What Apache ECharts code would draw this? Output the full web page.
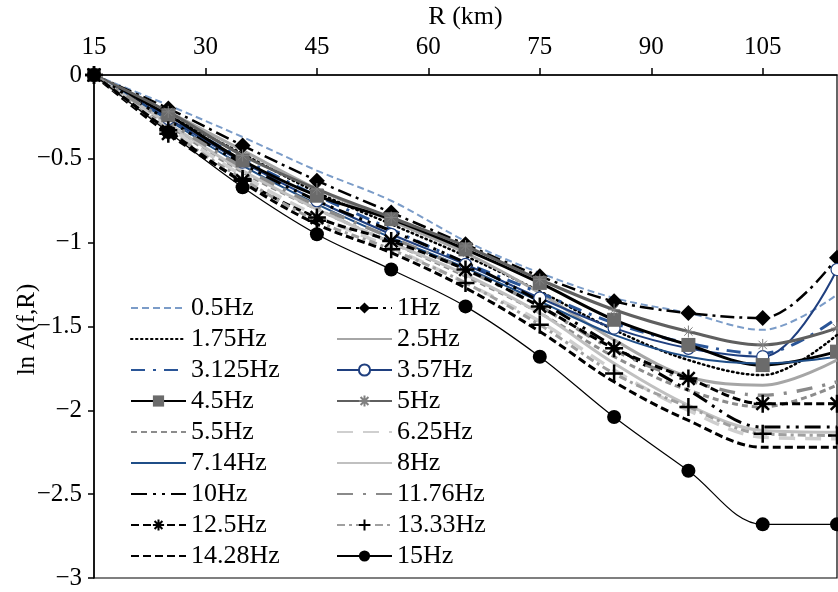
<!DOCTYPE html>
<html>
<head>
<meta charset="utf-8">
<script src="https://cdn.jsdelivr.net/npm/echarts@6/dist/echarts.min.js"></script>
<style>
  html, body { margin: 0; padding: 0; background: #fff; }
  #chart { width: 838px; height: 592px; }
</style>
</head>
<body>
<div id="chart"></div>
<script>
// Hypocentral distance R (km) of the sampled points
const distances = [15, 25, 35, 45, 55, 65, 75, 85, 95, 105, 115];

// Tick labels
const xTickValues = [15, 30, 45, 60, 75, 90, 105];
const yTickValues = [0, -0.5, -1, -1.5, -2, -2.5, -3];

// ln A(f,R) per frequency
const hz0_5   = [0, -0.18, -0.37, -0.57, -0.75, -0.99, -1.18, -1.33, -1.42, -1.52, -1.31];
const hz1     = [0, -0.20, -0.42, -0.63, -0.82, -1.01, -1.20, -1.35, -1.42, -1.45, -1.09];
const hz1_75  = [0, -0.24, -0.47, -0.70, -0.89, -1.08, -1.29, -1.52, -1.70, -1.79, -1.55];
const hz2_5   = [0, -0.22, -0.45, -0.68, -0.87, -1.06, -1.30, -1.58, -1.80, -1.85, -1.70];
const hz3_125 = [0, -0.25, -0.50, -0.72, -0.92, -1.12, -1.30, -1.48, -1.60, -1.66, -1.45];
const hz3_57  = [0, -0.26, -0.52, -0.75, -0.95, -1.13, -1.33, -1.51, -1.63, -1.68, -1.16];
const hz4_5   = [0, -0.24, -0.51, -0.72, -0.86, -1.04, -1.24, -1.46, -1.61, -1.73, -1.65];
const hz5     = [0, -0.22, -0.48, -0.68, -0.85, -1.02, -1.22, -1.40, -1.53, -1.61, -1.51];
const hz5_5   = [0, -0.30, -0.58, -0.80, -1.00, -1.20, -1.42, -1.68, -1.88, -1.98, -1.85];
const hz6_25  = [0, -0.31, -0.60, -0.84, -1.03, -1.24, -1.47, -1.76, -2.00, -2.16, -2.17];
const hz7_14  = [0, -0.27, -0.54, -0.77, -0.97, -1.15, -1.35, -1.55, -1.68, -1.72, -1.68];
const hz8     = [0, -0.29, -0.57, -0.80, -1.00, -1.19, -1.42, -1.72, -1.97, -2.12, -2.13];
const hz10    = [0, -0.27, -0.53, -0.75, -0.93, -1.12, -1.35, -1.62, -1.88, -2.10, -2.10];
const hz11_76 = [0, -0.28, -0.55, -0.78, -0.97, -1.16, -1.38, -1.64, -1.82, -1.91, -1.83];
const hz12_5  = [0, -0.35, -0.63, -0.85, -0.99, -1.16, -1.38, -1.63, -1.81, -1.96, -1.96];
const hz13_33 = [0, -0.33, -0.62, -0.87, -1.04, -1.24, -1.49, -1.78, -1.98, -2.14, -2.15];
const hz14_28 = [0, -0.33, -0.64, -0.89, -1.06, -1.27, -1.53, -1.83, -2.06, -2.22, -2.22];
const hz15    = [0, -0.34, -0.67, -0.95, -1.16, -1.38, -1.68, -2.04, -2.36, -2.68, -2.68];

const FONT = 'Liberation Serif';
const STAR = 'path://M0,5L10,5M5,0L5,10M1.5,1.5L8.5,8.5M1.5,8.5L8.5,1.5';
const PLUS = 'path://M0,5L10,5M5,0L5,10';
// transparent square marker so plain lines show only their stroke in the legend
const NO_MARK = 'path://M0,0L10,0L10,10L0,10Z';

function pairs(values) {
  return distances.map((r, i) => [r, values[i]]);
}

// name, values, line style, optional marker
const seriesDefs = [
  ['0.5Hz',   hz0_5,   { color: '#7b9cc8', width: 2,   type: [7, 4] }],
  ['1Hz',     hz1,     { color: '#000',    width: 2.5, type: [14, 5, 3, 5] }, { symbol: 'diamond', size: 16, fill: '#000' }],
  ['1.75Hz',  hz1_75,  { color: '#000',    width: 2.5, type: [1.5, 3.5], cap: 'round' }],
  ['2.5Hz',   hz2_5,   { color: '#a6a6a6', width: 3,   type: 'solid' }],
  ['3.125Hz', hz3_125, { color: '#2a5597', width: 3,   type: [14, 8, 3, 8] }],
  ['3.57Hz',  hz3_57,  { color: '#1f3f7f', width: 2,   type: 'solid' }, { symbol: 'circle', size: 12, fill: '#fff', stroke: '#1f3f7f', strokeWidth: 1.2 }],
  ['4.5Hz',   hz4_5,   { color: '#000',    width: 3,   type: 'solid' }, { symbol: 'rect', size: 14, fill: '#6b6b6b' }],
  ['5Hz',     hz5,     { color: '#5f5f5f', width: 3,   type: 'solid' }, { symbol: STAR, size: 12, fill: 'rgba(0,0,0,0)', stroke: '#808080', strokeWidth: 1 }],
  ['5.5Hz',   hz5_5,   { color: '#8c8c8c', width: 3,   type: [6, 4] }],
  ['6.25Hz',  hz6_25,  { color: '#cfcfcf', width: 3.5, type: [16, 10] }],
  ['7.14Hz',  hz7_14,  { color: '#1f4e87', width: 2,   type: 'solid' }],
  ['8Hz',     hz8,     { color: '#c0c0c0', width: 3,   type: 'solid' }],
  ['10Hz',    hz10,    { color: '#000',    width: 3,   type: [16, 6, 3, 6, 3, 6] }],
  ['11.76Hz', hz11_76, { color: '#8a8a8a', width: 3.5, type: [16, 10, 3, 10] }],
  ['12.5Hz',  hz12_5,  { color: '#000',    width: 3,   type: [8, 4] }, { symbol: STAR, size: 18, fill: 'rgba(0,0,0,0)', stroke: '#000', strokeWidth: 2.5 }],
  ['13.33Hz', hz13_33, { color: '#a0a0a0', width: 3,   type: [8, 4, 3, 4] }, { symbol: PLUS, size: 18, fill: 'rgba(0,0,0,0)', stroke: '#000', strokeWidth: 2.5 }],
  ['14.28Hz', hz14_28, { color: '#000',    width: 3,   type: [8, 4] }],
  ['15Hz',    hz15,    { color: '#000',    width: 1.2, type: 'solid' }, { symbol: 'circle', size: 14, fill: '#000' }]
];

const series = seriesDefs.map(([name, values, line, marker]) => {
  const s = {
    name: name,
    type: 'line',
    data: pairs(values),
    smooth: 0.35,
    clip: true,
    lineStyle: { color: line.color, width: line.width, type: line.type, cap: line.cap || 'butt' },
    emphasis: { disabled: true }
  };
  if (marker) {
    s.symbol = marker.symbol;
    s.symbolSize = marker.size;
    s.showSymbol = true;
    s.itemStyle = {
      color: marker.fill,
      borderColor: marker.stroke || marker.fill,
      borderWidth: marker.strokeWidth || 0
    };
  } else {
    s.symbol = NO_MARK;
    s.symbolSize = 1;
    s.showSymbol = false;
    s.itemStyle = { color: 'rgba(0,0,0,0)', borderColor: 'rgba(0,0,0,0)', borderWidth: 0 };
  }
  return s;
});

const names = seriesDefs.map(d => d[0]);
const leftNames = names.filter((_, i) => i % 2 === 0);
const rightNames = names.filter((_, i) => i % 2 === 1);

const legendBase = {
  orient: 'vertical',
  top: 290,
  itemWidth: 55,
  itemHeight: 14,
  itemGap: 5,
  selectedMode: false,
  textStyle: { fontFamily: FONT, fontSize: 26, lineHeight: 26, color: '#000' }
};

const minus = v => String(v).replace('-', '\u2212');

const option = {
  animation: false,
  backgroundColor: '#fff',
  grid: {
    left: 94, right: 1, top: 75, bottom: 14,
    containLabel: false,
    outerBoundsMode: 'none',
    show: true, borderColor: '#000', borderWidth: 1.2, backgroundColor: 'transparent'
  },
  legend: [
    Object.assign({}, legendBase, { left: 125, data: leftNames }),
    Object.assign({}, legendBase, { left: 331, data: rightNames })
  ],
  xAxis: {
    type: 'value',
    position: 'top',
    min: 15, max: 115,
    name: 'R (km)',
    nameLocation: 'middle',
    nameGap: 45,
    nameMoveOverlap: false,
    nameTextStyle: { fontFamily: FONT, fontSize: 26, color: '#000' },
    axisLine: { show: true, lineStyle: { color: '#000', width: 1.5 } },
    axisTick: { show: true, length: 7, lineStyle: { color: '#000', width: 1.5 }, customValues: xTickValues },
    axisLabel: { fontFamily: FONT, fontSize: 25, color: '#000', margin: 15, customValues: xTickValues },
    splitLine: { show: false }
  },
  yAxis: {
    type: 'value',
    min: -3, max: 0, interval: 0.5,
    name: 'ln A(f,R)',
    nameLocation: 'middle',
    nameRotate: 90,
    nameGap: 54,
    nameMoveOverlap: false,
    nameTextStyle: { fontFamily: FONT, fontSize: 25, color: '#000', padding: [0, 6, 0, 0] },
    axisLine: { show: true, onZero: false, lineStyle: { color: '#000', width: 1.5 } },
    axisTick: { show: true, length: 6, lineStyle: { color: '#000', width: 1.5 }, customValues: yTickValues },
    axisLabel: { fontFamily: FONT, fontSize: 25, color: '#000', margin: 12, formatter: minus, customValues: yTickValues },
    splitLine: { show: false }
  },
  series: series
};

const chart = echarts.init(document.getElementById('chart'), null, { renderer: 'canvas' });
chart.setOption(option);
</script>
</body>
</html>
